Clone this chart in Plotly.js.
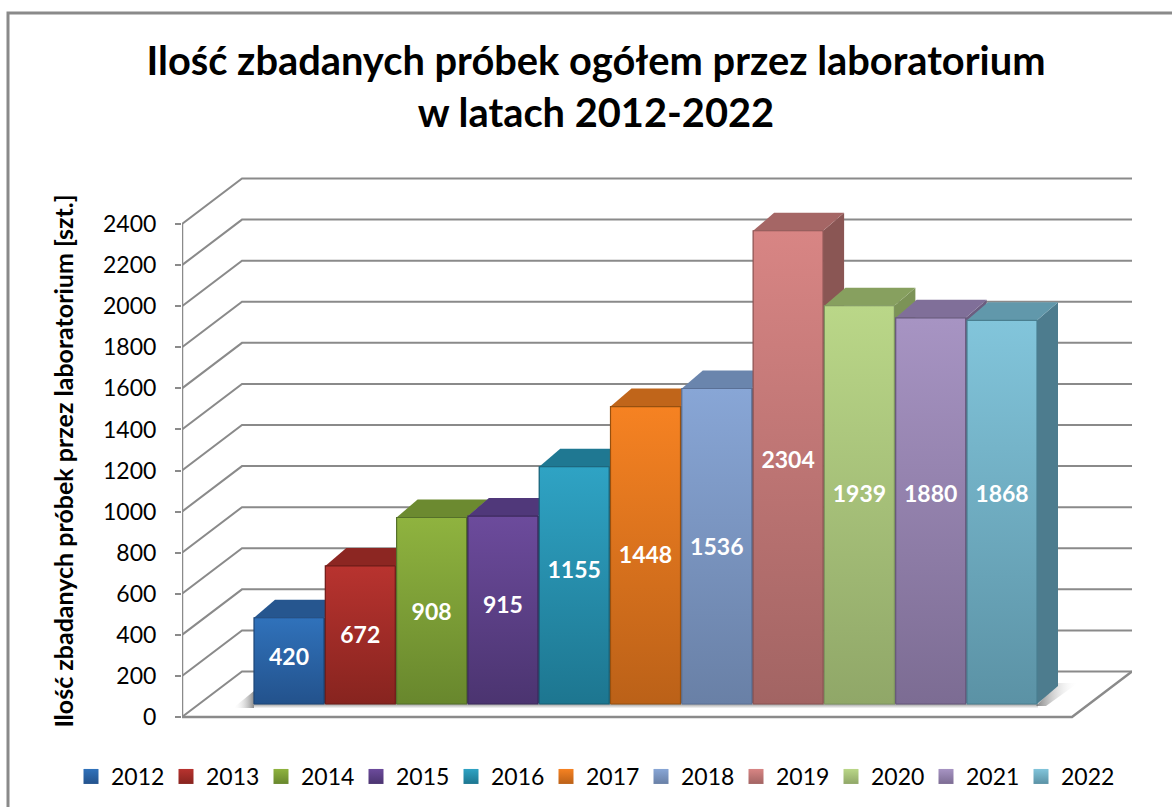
<!DOCTYPE html>
<html><head><meta charset="utf-8">
<script src="https://cdn.plot.ly/plotly-3.0.1.min.js"></script>
<style>html,body{margin:0;padding:0;background:#fff}#c{width:1172px;height:807px}</style>
</head><body><div id="c"></div>
<script>
const years = ['2012','2013','2014','2015','2016','2017','2018','2019','2020','2021','2022'];
const samples = [420,672,908,915,1155,1448,1536,2304,1939,1880,1868];
const labelLevels = [280,387,499,533,703,776,815,1240,1075,1075,1075];
const tickValues = [0,200,400,600,800,1000,1200,1400,1600,1800,2000,2200,2400];
const topColors = ['#3072bb','#b8332f','#8fb33f','#6c4b9c','#2fa3c4','#f68222','#88a6d6','#d88584','#bad788','#a794c3','#82c5db'];
const bottomColors = ['#23528c','#87241f','#68872d','#4b3470','#1d7690','#bb6118','#6980a6','#a26463','#90a768','#7c6c93','#5b92a5'];
const roofColors = ['#26568f','#8c2622','#6c8a30','#50387a','#1f7892','#c0651a','#6a85ad','#a56665','#87a05f','#806f99','#6198ab'];
const sideColors = ['#1e4674','#711d1a','#566f26','#3f2c5f','#18617a','#9b5014','#566b8c','#8a5654','#7c9357','#6b5d80','#4d7c8e'];
const edgeColors = ['#1d4678','#6f1c19','#55702a','#3c2a5c','#175f75','#97500f','#5a7096','#8a5352','#7f9560','#65577a','#4a7f90'];

const PX_PER_UNIT = 0.2054, PITCH = 71.3, FIRST = 289, LEFT = 182, RIGHT = 1132, ZERO = 717;
const TOP = 170, BOTTOM = 752;
const xAt = px => (px - FIRST) / PITCH;
const yAt = px => (ZERO - px) / PX_PER_UNIT;
const BASE = yAt(704), HALF = 35 / PITCH, DX = 21 / PITCH, DY = 18 / PX_PER_UNIT;
const WALL_X = 60 / PITCH, WALL_Y = 45.5 / PX_PER_UNIT;
const x0 = xAt(LEFT), xEnd = xAt(1072);

const traces = [];
function shade(points, gradient, extra) {
  traces.push(Object.assign({
    type:'scatter', mode:'lines', x:points.map(p=>p[0]), y:points.map(p=>p[1]),
    fill:'toself', line:{width:0}, hoverinfo:'skip', showlegend:false, fillcolor:'rgba(0,0,0,0)', fillgradient:gradient
  }, extra||{}));
}
traces.push({type:'bar', x:years.map((_,i)=>i), y:samples, base:BASE, width:70/PITCH,
  marker:{color:topColors, line:{width:0}}, showlegend:false, hoverinfo:'skip'});
const g = (a,b,t)=>({type:t||'vertical', colorscale:[[0,a],[1,b]]});
shade([[xAt(254),yAt(708.5)],[xAt(1038),yAt(708.5)],[xAt(1038),yAt(704)],[xAt(254),yAt(704)]],
      g('rgba(150,150,150,0)','rgba(130,130,130,0.8)'));
shade([[xAt(233),yAt(708)],[xAt(254),yAt(708)],[xAt(254),yAt(691)]],
      g('rgba(255,255,255,0)','rgba(120,120,120,0.85)','horizontal'));
shade([[xAt(1036),yAt(706)],[xAt(1058),yAt(683)],[xAt(1078),yAt(683)],[xAt(1046),yAt(706)]],
      g('rgba(110,110,110,0.85)','rgba(255,255,255,0)','horizontal'));

years.forEach((yr,i)=>{
  const l=i-HALF, r=i+HALF, b=BASE, t=BASE+samples[i];
  shade([[r,b],[r+DX,b+DY],[r+DX,t+DY],[r,t]], g(sideColors[i],sideColors[i]));
  shade([[l,t],[r,t],[r+DX,t+DY],[l+DX,t+DY]], g(roofColors[i],roofColors[i]));
  shade([[l,b],[r,b],[r,t],[l,t],[l,b]], g(bottomColors[i],topColors[i]),
        {line:{width:1.2,color:edgeColors[i]}});
});
traces.push({type:'scatter', mode:'text', x:years.map((_,i)=>i), y:labelLevels,
  text:samples.map(String), textposition:'middle center', hoverinfo:'skip', showlegend:false,
  textfont:{family:'Lato, sans-serif', size:23, color:'#ffffff', weight:700}, cliponaxis:false});
years.forEach((yr,i)=>{
  traces.push({type:'scatter', mode:'markers', name:yr, x:[null], y:[null], hoverinfo:'skip',
    marker:{symbol:'square', size:15, color:topColors[i], line:{width:0},
            gradient:{type:'vertical', color:bottomColors[i]}}});
});

const gridColor = '#8a8a8a';
const shapes = tickValues.map(v=>({
  type:'path', layer:'below', xref:'x', yref:'y', line:{color:gridColor,width:2},
  path:`M ${x0} ${v} L ${x0+WALL_X} ${v+WALL_Y} L ${xAt(RIGHT)} ${v+WALL_Y}`
}));
shapes.push({type:'path', layer:'below', xref:'x', yref:'y', line:{color:gridColor,width:2.5},
  path:`M ${x0} ${0} L ${xEnd} ${0} L ${xAt(RIGHT)} ${WALL_Y}`});
shapes.push({type:'line', layer:'below', xref:'x', yref:'y', x0:x0, x1:x0, y0:0, y1:2400, line:{color:gridColor,width:2.5}});
shapes.push({type:'rect', layer:'below', xref:'paper', yref:'paper',
  x0:(8-LEFT)/(RIGHT-LEFT), x1:(1200-LEFT)/(RIGHT-LEFT),
  y0:(BOTTOM-840)/(BOTTOM-TOP), y1:(BOTTOM-13)/(BOTTOM-TOP),
  line:{color:gridColor,width:3}});

const layout = {
  width:1172, height:807, paper_bgcolor:'#fff', plot_bgcolor:'rgba(0,0,0,0)',
  margin:{l:LEFT, r:1172-RIGHT, t:TOP, b:807-BOTTOM, pad:0, autoexpand:false}, barmode:'overlay',
  title:{text:'Ilość zbadanych próbek ogółem przez laboratorium<br>w latach 2012-2022',
    font:{family:'Lato, sans-serif', size:39.8, color:'#000', weight:700},
    x:596/1172, xanchor:'center', y:1-75/807, yanchor:'top'},
  xaxis:{visible:false, range:[x0, xAt(RIGHT)], fixedrange:true},
  yaxis:{range:[yAt(BOTTOM), yAt(TOP)], tickmode:'array', tickvals:tickValues, ticktext:tickValues.map(String),
    showgrid:false, zeroline:false, showline:false, ticks:'outside', ticklen:6, tickwidth:2, tickcolor:gridColor,
    tickfont:{family:'Lato, sans-serif', size:23, color:'#000'}, ticklabelstandoff:14,
    title:{text:'Ilość zbadanych próbek przez laboratorium [szt.]', standoff:22,
      font:{family:'Lato, sans-serif', size:25, color:'#000', weight:700}}},
  legend:{orientation:'h', x:(71-LEFT)/(RIGHT-LEFT), xanchor:'left', y:(BOTTOM-755)/(BOTTOM-TOP), yanchor:'top',
    entrywidth:50, entrywidthmode:'pixels', itemwidth:30, itemclick:false, itemdoubleclick:false,
    font:{family:'Lato, sans-serif', size:23, color:'#000'}, traceorder:'normal', bgcolor:'rgba(0,0,0,0)'},
  shapes:shapes
};
Plotly.newPlot('c', traces, layout, {displayModeBar:false, staticPlot:true});
</script></body></html>
